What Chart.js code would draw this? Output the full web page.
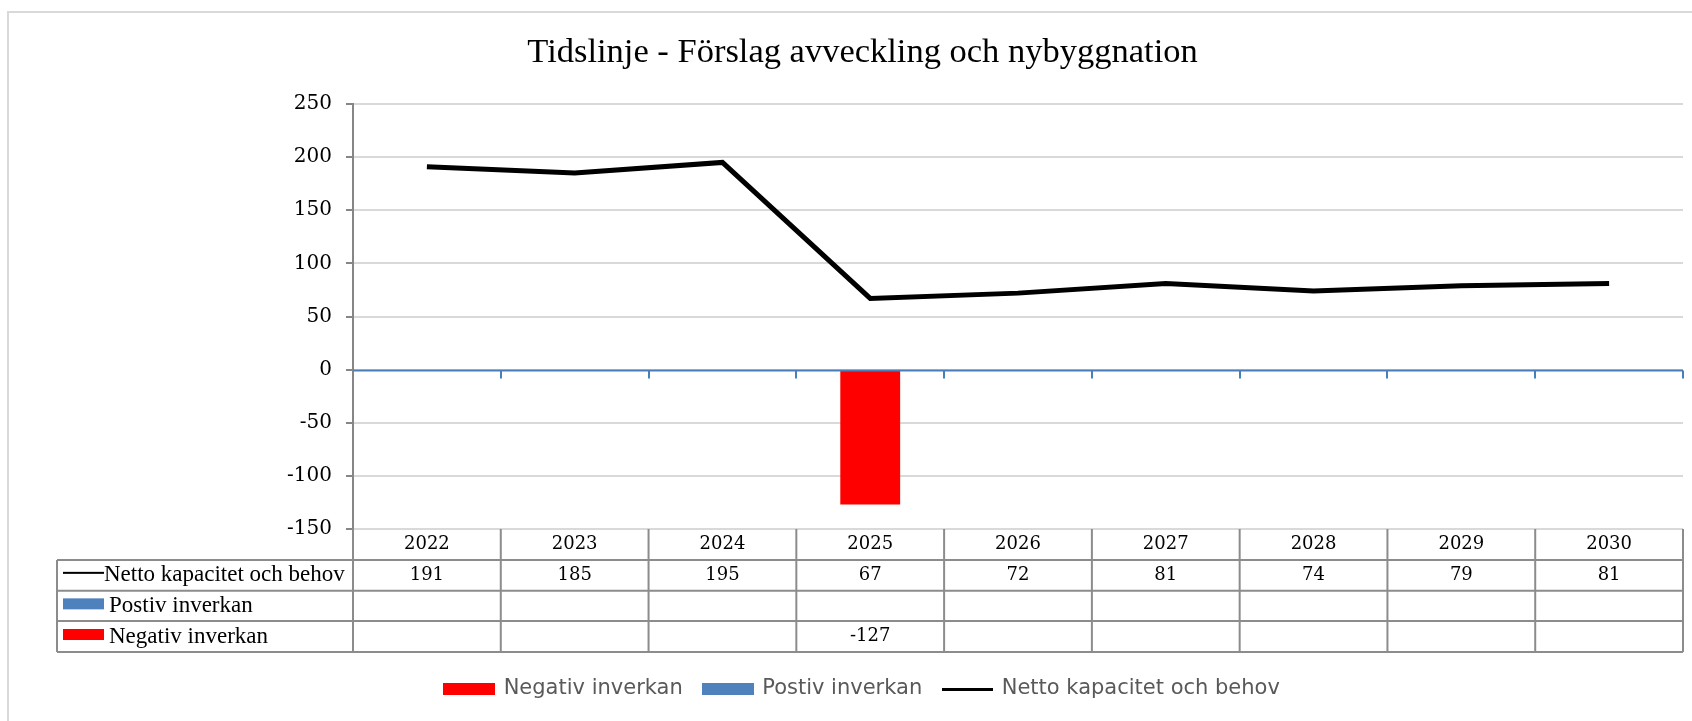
<!DOCTYPE html>
<html>
<head>
<meta charset="utf-8">
<script src="https://cdn.jsdelivr.net/npm/chart.js@4/dist/chart.umd.min.js"></script>
<style>
  html, body { margin: 0; padding: 0; background: #fff; overflow: hidden; }
  #frame { position: absolute; left: 7px; top: 11px; width: 1760px; height: 780px;
           border: 2px solid #d9d9d9; box-sizing: border-box; }
  #chart { position: absolute; left: 0; top: 0; }
</style>
</head>
<body>
<div id="frame"></div>
<canvas id="chart" width="1692" height="721"></canvas>
<script>
// Series values per year
const years = ['2022', '2023', '2024', '2025', '2026', '2027', '2028', '2029', '2030'];
const netto = [191, 185, 195, 67, 72, 81, 74, 79, 81];
const postiv = [null, null, null, null, null, null, null, null, null];
const negativ = [null, null, null, -127, null, null, null, null, null];

const yMin = -150;
const yMax = 250;
const yStep = 50;

const RED = '#ff0000';
const BLUE = '#4f81bd';
const GRID = '#d9d9d9';
const AXIS = '#868686';
const TABLE_LINE = '#8c8c8c';
const FRAME_CENTER = 862.5;

const serif = "'Liberation Serif', 'Times New Roman', serif";
const numFont = "'DejaVu Serif', Georgia, serif";

// small images used as legend keys
function keyImage(w, h, color) {
  const c = document.createElement('canvas');
  c.width = w; c.height = h;
  const g = c.getContext('2d');
  g.fillStyle = color;
  g.fillRect(0, 0, w, h);
  return c;
}
const legendKeys = [keyImage(52, 12, RED), keyImage(52, 12, BLUE), keyImage(51, 3, '#000')];

// horizontal axis at zero with tick marks between categories
const zeroAxis = {
  id: 'zeroAxis',
  afterDatasetsDraw(chart) {
    const { ctx, chartArea: area, scales: { x, y } } = chart;
    const y0 = Math.round(y.getPixelForValue(0)) + 0.5;
    const half = (x.getPixelForValue(1) - x.getPixelForValue(0)) / 2;
    ctx.save();
    ctx.strokeStyle = '#4a7ebb';
    ctx.lineWidth = 2;
    ctx.beginPath();
    ctx.moveTo(area.left, y0);
    ctx.lineTo(area.right, y0);
    for (let i = 1; i <= years.length; i++) {
      const xx = Math.round(x.getPixelForValue(i - 1) + half);
      ctx.moveTo(xx, y0);
      ctx.lineTo(xx, y0 + 8);
    }
    ctx.stroke();
    ctx.restore();
  }
};

// data table under the plot
const dataTable = {
  id: 'dataTable',
  afterDraw(chart) {
    const { ctx, chartArea: area, scales: { x } } = chart;
    const half = (x.getPixelForValue(1) - x.getPixelForValue(0)) / 2;
    const top = area.bottom;
    const rows = [top, top + 31, top + 61.7, top + 92, top + 123];
    const labelLeft = 57;

    ctx.save();
    ctx.strokeStyle = TABLE_LINE;
    ctx.lineWidth = 2;
    ctx.beginPath();
    for (let r = 1; r < rows.length; r++) {
      ctx.moveTo(labelLeft, rows[r]);
      ctx.lineTo(area.right, rows[r]);
    }
    for (let i = 0; i <= years.length; i++) {
      const xx = i === years.length ? area.right : x.getPixelForValue(i) - half;
      ctx.moveTo(xx, top);
      ctx.lineTo(xx, rows[4]);
    }
    ctx.moveTo(labelLeft, rows[1]);
    ctx.lineTo(labelLeft, rows[4]);
    ctx.stroke();

    ctx.fillStyle = '#000';
    ctx.textAlign = 'center';
    ctx.textBaseline = 'middle';
    ctx.font = '18px ' + numFont;
    const rowSets = [years, netto, postiv, negativ];
    rowSets.forEach((vals, r) => {
      const cy = (rows[r] + rows[r + 1]) / 2;
      vals.forEach((v, i) => {
        if (v === null) return;
        ctx.fillText(String(v), x.getPixelForValue(i), cy);
      });
    });

    // row headers with series keys
    ctx.textAlign = 'left';
    ctx.font = '23px ' + serif;
    let cy = (rows[1] + rows[2]) / 2;
    ctx.fillRect(63, cy - 3.5, 41, 2);
    ctx.fillText('Netto kapacitet och behov', 104, cy);
    cy = (rows[2] + rows[3]) / 2;
    ctx.fillStyle = BLUE;
    ctx.fillRect(63, cy - 7.5, 41, 11);
    ctx.fillStyle = '#000';
    ctx.fillText('Postiv inverkan', 109, cy);
    cy = (rows[3] + rows[4]) / 2;
    ctx.fillStyle = RED;
    ctx.fillRect(63, cy - 7.5, 41, 11);
    ctx.fillStyle = '#000';
    ctx.fillText('Negativ inverkan', 109, cy);
    ctx.restore();
  }
};

// centre title and legend on the outer frame
const blockShift = {
  id: 'blockShift',
  afterLayout(chart) {
    [chart.titleBlock, chart.legend].forEach(b => {
      const d = FRAME_CENTER - (b.left + b.right) / 2;
      b.left += d;
      b.right += d;
    });
  }
};

new Chart(document.getElementById('chart'), {
  data: {
    labels: years,
    datasets: [
      {
        type: 'bar',
        label: 'Negativ inverkan',
        data: negativ,
        backgroundColor: RED,
        grouped: false,
        barPercentage: 0.405,
        categoryPercentage: 1
      },
      {
        type: 'bar',
        label: 'Postiv inverkan',
        data: postiv,
        backgroundColor: BLUE,
        grouped: false,
        barPercentage: 0.405,
        categoryPercentage: 1
      },
      {
        type: 'line',
        label: 'Netto kapacitet och behov',
        data: netto,
        borderColor: '#000',
        backgroundColor: '#000',
        borderWidth: 5,
        pointRadius: 0,
        tension: 0,
        borderJoinStyle: 'miter'
      }
    ]
  },
  options: {
    responsive: false,
    animation: false,
    layout: { padding: { top: 0, right: 9, bottom: 11.5, left: 0 } },
    plugins: {
      title: {
        display: true,
        text: 'Tidslinje - Förslag avveckling och nybyggnation',
        color: '#000',
        font: { family: serif, size: 34.5, weight: 'normal' },
        padding: { top: 32, bottom: 30.6 }
      },
      legend: {
        position: 'bottom',
        labels: {
          usePointStyle: true,
          pointStyleWidth: 48,
          padding: 21,
          color: '#595959',
          font: { family: "'DejaVu Sans', Verdana, sans-serif", size: 21 },
          generateLabels(chart) {
            const items = Chart.defaults.plugins.legend.labels.generateLabels(chart);
            items.forEach(it => { it.pointStyle = legendKeys[it.datasetIndex]; });
            return items;
          }
        }
      },
      tooltip: { enabled: false }
    },
    scales: {
      x: {
        type: 'category',
        offset: true,
        grid: { display: false },
        border: { display: false },
        ticks: { display: false },
        afterFit(scale) { scale.height = 128.5; }
      },
      y: {
        min: yMin,
        max: yMax,
        ticks: {
          stepSize: yStep,
          color: '#000',
          padding: 14,
          font: { family: numFont, size: 20 }
        },
        grid: {
          color: GRID,
          lineWidth: 2,
          tickColor: AXIS,
          tickLength: 7
        },
        border: { color: AXIS, width: 2 },
        afterFit(scale) { scale.width = 353; }
      }
    }
  },
  plugins: [zeroAxis, dataTable, blockShift]
});
</script>
</body>
</html>
